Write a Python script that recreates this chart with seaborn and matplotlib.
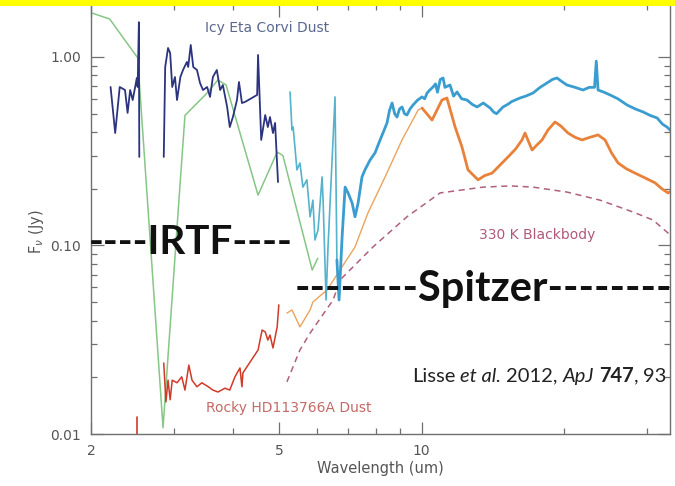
import pandas as pd
import matplotlib.pyplot as plt
import seaborn as sns
from matplotlib.patches import Rectangle

sns.set_style("ticks")
plt.rcParams['font.family'] = ['DejaVu Sans']

# model curve (green)
green_wl = [2.01, 2.19, 2.51, 2.84, 3.09, 3.16, 3.49, 3.71, 3.86, 4.51, 4.95, 5.09, 5.87, 6.03]
green_flux = [1.71, 1.59, 0.99, 0.0108, 0.223, 0.49, 0.63, 0.755, 0.71, 0.185, 0.313, 0.30, 0.0741, 0.0855]

# IRTF icy spectrum (navy), two pieces
navy1_wl = [2.20, 2.25, 2.30, 2.36, 2.39, 2.42, 2.45, 2.50, 2.51, 2.525, 2.53]
navy1_flux = [0.693, 0.395, 0.693, 0.668, 0.505, 0.668, 0.591, 0.774, 0.693, 1.53, 0.295]
navy2_wl = [2.85, 2.87, 2.91, 2.94, 2.97, 3.01, 3.04, 3.09, 3.13, 3.19, 3.21, 3.25, 3.29,
            3.35, 3.40, 3.45, 3.52, 3.57, 3.62, 3.69, 3.75, 3.80, 3.88, 3.93, 3.99, 4.07,
            4.11, 4.17, 4.23, 4.49, 4.51, 4.58, 4.67, 4.73, 4.78, 4.85, 4.90, 4.97]
navy2_flux = [0.295, 0.885, 1.116, 1.05, 0.693, 0.783, 0.591, 0.783, 0.853, 0.941, 0.885,
              1.158, 0.885, 0.853, 0.728, 0.668, 0.693, 0.614, 0.783, 0.853, 0.668, 0.710,
              0.543, 0.425, 0.480, 0.591, 0.737, 0.570, 0.577, 0.629, 1.025, 0.363, 0.492,
              0.425, 0.480, 0.395, 0.447, 0.217]

# Spitzer icy spectrum (teal then blue)
teal_wl = [5.27, 5.32, 5.35, 5.45, 5.53, 5.61, 5.72, 5.81, 5.89, 5.95, 6.04, 6.16, 6.19,
           6.28, 6.34, 6.56, 6.62]
teal_flux = [0.652, 0.410, 0.425, 0.252, 0.274, 0.204, 0.223, 0.142, 0.174, 0.107, 0.121,
             0.231, 0.174, 0.0514, 0.0982, 0.614, 0.0838]
blue_wl = [6.62, 6.69, 6.79, 6.89, 6.99, 7.13, 7.23, 7.34, 7.48, 7.59, 7.78, 7.97, 8.17,
           8.30, 8.45, 8.55, 8.66, 8.77, 8.87, 8.98, 9.09, 9.20, 9.31, 9.45, 9.59, 9.80,
           10.02, 10.15, 10.27, 10.42, 10.57, 10.70, 10.80, 10.95, 11.10, 11.20, 11.48,
           11.68, 11.88, 12.15, 12.47, 12.80, 13.10, 13.50, 13.96, 14.20, 14.40, 14.86,
           15.20, 15.50, 16.14, 16.60, 17.20, 17.80, 18.41, 18.90, 19.32, 19.80, 20.29,
           21.10, 21.94, 22.60, 23.20, 23.40, 23.60, 24.30, 25.02, 26.00, 27.19, 28.30,
           29.38, 30.40, 31.46, 32.30, 33.02, 34.0]
blue_flux = [0.0838, 0.0514, 0.111, 0.204, 0.190, 0.168, 0.142, 0.168, 0.231, 0.252, 0.284,
             0.310, 0.363, 0.400, 0.447, 0.520, 0.570, 0.500, 0.480, 0.530, 0.543, 0.500,
             0.492, 0.530, 0.556, 0.590, 0.614, 0.600, 0.644, 0.670, 0.693, 0.720, 0.650,
             0.760, 0.774, 0.690, 0.710, 0.620, 0.652, 0.600, 0.591, 0.560, 0.543, 0.570,
             0.536, 0.510, 0.500, 0.543, 0.560, 0.580, 0.606, 0.620, 0.644, 0.690, 0.728,
             0.760, 0.774, 0.740, 0.710, 0.690, 0.668, 0.690, 0.690, 0.950, 0.668, 0.650,
             0.629, 0.600, 0.556, 0.530, 0.511, 0.490, 0.475, 0.440, 0.425, 0.395]

# IRTF rocky spectrum (red)
red_spike_wl = [2.50, 2.50]
red_spike_flux = [0.0123, 0.009]
red_wl = [2.85, 2.88, 2.91, 2.94, 2.97, 3.04, 3.11, 3.16, 3.22, 3.27, 3.35, 3.43, 3.54,
          3.62, 3.71, 3.84, 3.93, 4.03, 4.13, 4.17, 4.19, 4.51, 4.60, 4.67, 4.73, 4.78,
          4.85, 4.95, 4.99]
red_flux = [0.0238, 0.0148, 0.0193, 0.0152, 0.0193, 0.0187, 0.0201, 0.0171, 0.0232, 0.0193,
            0.0178, 0.0187, 0.0178, 0.0171, 0.0167, 0.0175, 0.0171, 0.0201, 0.0224, 0.0178,
            0.0211, 0.0279, 0.0356, 0.0348, 0.0315, 0.0335, 0.0286, 0.0370, 0.0484]

# Spitzer rocky spectrum (orange)
pale_wl = [5.19, 5.32, 5.53, 5.81, 5.89, 6.31, 6.72, 7.23, 7.70, 8.37, 9.09, 9.83, 10.02]
pale_flux = [0.0438, 0.0455, 0.0370, 0.0455, 0.0501, 0.0581, 0.0741, 0.0982, 0.1488,
             0.231, 0.363, 0.523, 0.536]
orange_wl = [10.02, 10.52, 11.04, 11.31, 11.77, 12.17, 12.53, 13.16, 13.60, 14.09, 14.60,
             15.23, 15.80, 16.30, 16.54, 17.12, 17.50, 17.97, 18.50, 19.14, 19.70, 20.39,
             21.10, 21.84, 22.70, 23.60, 24.42, 25.20, 26.02, 27.10, 28.26, 29.70, 31.14,
             32.20, 33.18, 34.0]
orange_flux = [0.536, 0.463, 0.591, 0.606, 0.425, 0.333, 0.252, 0.223, 0.235, 0.242, 0.265,
               0.295, 0.325, 0.363, 0.395, 0.321, 0.340, 0.363, 0.410, 0.452, 0.430, 0.395,
               0.375, 0.363, 0.375, 0.386, 0.363, 0.310, 0.274, 0.255, 0.242, 0.228, 0.215,
               0.200, 0.190, 0.197]

# 330 K blackbody (dashed)
bb_wl = [5.19, 5.53, 5.81, 6.50, 6.72, 7.89, 9.31, 10.94, 13.48, 15.38, 17.20, 20.29,
         23.83, 27.98, 30.84, 34.5]
bb_flux = [0.0189, 0.0279, 0.0343, 0.0514, 0.0656, 0.0982, 0.142, 0.190, 0.204, 0.207,
           0.204, 0.192, 0.174, 0.1505, 0.1365, 0.107]

# citation pieces: (text, style, weight, gap after in px)
cite_parts = [('Lisse', 'normal', 'normal', 5), ('et al.', 'italic', 'normal', 5),
              ('2012,', 'normal', 'normal', 5), ('ApJ', 'italic', 'normal', 5),
              ('747', 'normal', 'bold', 0), (',', 'normal', 'normal', 5),
              ('93', 'normal', 'normal', 0)]

W, H = 675, 486
fig = plt.figure(figsize=(6.75, 4.86), dpi=100)
ax = fig.add_axes([91 / W, 1 - 434 / H, (670 - 91) / W, (434 - 4) / H])

def draw(wl, flux, color, lw, ls='-'):
    df = pd.DataFrame({'wl': wl, 'flux': flux})
    sns.lineplot(data=df, x='wl', y='flux', ax=ax, color=color, linewidth=lw,
                 linestyle=ls, sort=False, estimator=None)

draw(green_wl, green_flux, '#86c686', 1.1)
draw(navy1_wl, navy1_flux, '#2c3480', 1.3)
draw(navy2_wl, navy2_flux, '#2c3480', 1.3)
draw(red_spike_wl, red_spike_flux, '#d03a28', 1.2)
draw(red_wl, red_flux, '#d03a28', 1.1)
draw(bb_wl, bb_flux, '#b0607e', 1.1, ls=(0, (4, 3)))
draw(pale_wl, pale_flux, '#eba35e', 1.0)
draw(orange_wl, orange_flux, '#e8823a', 2.0)
draw(teal_wl, teal_flux, '#55b3cc', 1.2)
draw(blue_wl, blue_flux, '#3a9dd0', 2.0)

ax.set_xscale('log')
ax.set_yscale('log')
ax.set_xlim(2, 33.5)
ax.set_ylim(0.01, 1.91)

ax.set_xticks([2, 5, 10], labels=['2', '5', '10'])
ax.set_xticks([3, 4, 6, 7, 8, 9, 20, 30], labels=[], minor=True)
ax.set_yticks([0.01, 0.1, 1], labels=['0.01', '0.10', '1.00'])
ax.set_yticks([k * 10.0 ** e for e in (-2, -1, 0) for k in range(2, 10) if k * 10.0 ** e < 1.91],
              labels=[], minor=True)
ax.tick_params(which='both', direction='in', top=True, right=True, color='#707070',
               labelcolor='#555555', labelsize=10, width=0.9)
ax.tick_params(which='major', length=9, pad=7)
ax.tick_params(which='minor', length=4.5)
for s in ax.spines.values():
    s.set_color('#707070')
    s.set_linewidth(1.0)

ax.set_xlabel('')
ax.set_ylabel('')
fig.text(380 / W, 1 - 468 / H, 'Wavelength (um)', ha='center', va='center',
         fontsize=10.5, color='#555555')
fig.text(37 / W, 1 - 232 / H, r'F$_\nu$ (Jy)', ha='center', va='center', rotation=90,
         fontsize=10.5, color='#555555', math_fontfamily='dejavusans')

# in-plot labels
fig.text(205 / W, 1 - 28 / H, 'Icy Eta Corvi Dust', ha='left', va='center',
         fontsize=10, color='#5a6890')
fig.text(537 / W, 1 - 235 / H, '330 K Blackbody', ha='center', va='center',
         fontsize=10, color='#b05a7a')
fig.text(289 / W, 1 - 408 / H, 'Rocky HD113766A Dust', ha='center', va='center',
         fontsize=10, color='#c46a68')

# overlay annotations
fig.text(89 / W, 1 - 242 / H, '----IRTF----', ha='left', va='center',
         fontsize=29, fontweight='bold', family='Lato', color='#111111')
fig.text(295 / W, 1 - 289 / H, '--------Spitzer--------', ha='left', va='center',
         fontsize=30, fontweight='bold', family='Lato', color='#111111')

renderer = fig.canvas.get_renderer()
x_px = 412
for piece, style, weight, gap in cite_parts:
    t = fig.text(x_px / W, 1 - 376 / H, piece, ha='left', va='center', fontsize=14.5,
                 family='Lato', style=style, fontweight=weight, color='#222222')
    x_px += t.get_window_extent(renderer).width + gap

# yellow band on top
fig.patches.append(Rectangle((0, 1 - 6 / H), 1, 6 / H, transform=fig.transFigure,
                             facecolor='#ffff00', edgecolor='none', zorder=10))

fig.savefig('out.png', dpi=100)
